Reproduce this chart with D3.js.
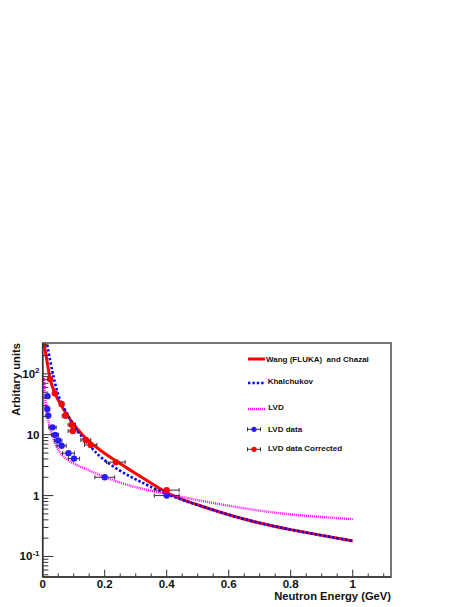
<!DOCTYPE html>
<html><head><meta charset="utf-8">
<script src="https://cdn.jsdelivr.net/npm/d3@7"></script>
<style>
html,body{margin:0;padding:0;background:#fff;}
svg{display:block;font-family:"Liberation Sans",Arial,Helvetica,sans-serif;font-weight:bold;}
</style></head>
<body><svg id="c" width="469" height="607"></svg>
<script>
// ---- data ----
const wangE   = [0.0015,0.005,0.01,0.015,0.023,0.03,0.04,0.06,0.08,0.1,0.125,0.15,0.2,0.24,0.3,0.35,0.4,0.45,0.5,0.6,0.7,0.8,0.9,1.0];
const wangV   = [340,300,215,150,83,64,46,30,20.5,14.6,10.3,7.6,4.9,3.6,2.3,1.6,1.1,0.86,0.7,0.48,0.35,0.275,0.222,0.18];
const khalE   = [0.012,0.02,0.032,0.036,0.045,0.058,0.077,0.1,0.12,0.15,0.185,0.25,0.3,0.335,0.4,0.45,0.5,0.6,0.7,0.8,0.9,1.0];
const khalV   = [350,210,104,83,55,34,23,13.8,10,6.8,4.2,2.5,1.85,1.5,1.05,0.85,0.7,0.48,0.35,0.275,0.222,0.18];
const lvdCurveE = [0.004,0.006,0.01,0.018,0.029,0.045,0.066,0.1,0.15,0.2,0.24,0.3,0.4,0.5,0.6,0.7,0.8,0.9,1.0];
const lvdCurveV = [85,50,27,16.6,10,6.0,4.3,3.3,2.6,2.0,1.7,1.35,1.07,0.84,0.68,0.56,0.49,0.445,0.41];
const lvdDataE  = [0.0155,0.0148,0.018,0.0316,0.040,0.050,0.061,0.083,0.101,0.2,0.4];
const lvdDataV  = [43,26.5,20.6,13.2,9.95,8.05,6.6,4.97,4.05,2.0,1.0];
const lvdDataEx = [0.003,0.003,0.004,0.012,0.011,0.012,0.015,0.019,0.018,0.032,0.04];
const corrE  = [0.002,0.0235,0.039,0.061,0.073,0.094,0.097,0.139,0.155,0.236,0.4];
const corrV  = [310,82,48,32,20.5,14.6,11.5,8.2,6.8,3.55,1.23];
const corrEx = [0,0.004,0.006,0.007,0.01,0.012,0.015,0.016,0.02,0.03,0.04];
const xTicks = [0,0.2,0.4,0.6,0.8,1];
const xTickLabels = ["0","0.2","0.4","0.6","0.8","1"];
const yDecades = [0.1,1,10,100];
const yDecadeLabels = [["10","-1"],["1",""],["10",""],["10","2"]];
const legendLabels = ["Wang (FLUKA)  and Chazal","Khalchukov","LVD","LVD data","LVD data Corrected"];
const xTitle = "Neutron Energy (GeV)";
const yTitle = "Arbitary units";

// ---- layout ----
const L=42.7, R=391, T=343, B=577;
const svg = d3.select("#c");
const x = d3.scaleLinear().domain([0,1.1235]).range([L,R]);
const y = d3.scaleLog().domain([0.046,321]).range([B,T]);

svg.append("defs").append("clipPath").attr("id","pc")
  .append("rect").attr("x",L).attr("y",T).attr("width",R-L).attr("height",B-T);

const plot = svg.append("g").attr("clip-path","url(#pc)");
const line = d3.line().x(d=>x(d[0])).y(d=>y(d[1])).curve(d3.curveBasis);
const zip = (a,b)=>a.map((v,i)=>[v,b[i]]);

plot.append("path").attr("d",line(zip(wangE,wangV)))
  .attr("fill","none").attr("stroke","#ff0000").attr("stroke-width",3);
plot.append("path").attr("d",line(zip(khalE,khalV)))
  .attr("fill","none").attr("stroke","#0000ff").attr("stroke-width",2.6).attr("stroke-dasharray","2.4,2");
plot.append("path").attr("d",line(zip(lvdCurveE,lvdCurveV)))
  .attr("fill","none").attr("stroke","#ff00ff").attr("stroke-width",2.4).attr("stroke-dasharray","1,1");

function drawPoints(E,V,Ex,color){
  const g = plot.append("g");
  E.forEach((e,i)=>{
    const cx=x(e), cy=y(V[i]);
    if(Ex[i]>0){
      const x0=x(e-Ex[i]), x1=x(e+Ex[i]);
      g.append("line").attr("x1",x0).attr("x2",x1).attr("y1",cy).attr("y2",cy).attr("stroke","#333").attr("stroke-width",1);
      [x0,x1].forEach(xx=>g.append("line").attr("x1",xx).attr("x2",xx).attr("y1",cy-2).attr("y2",cy+2).attr("stroke","#333").attr("stroke-width",1));
    }
    g.append("circle").attr("cx",cx).attr("cy",cy).attr("r",3.2).attr("fill",color);
  });
}
drawPoints(lvdDataE,lvdDataV,lvdDataEx,"#2a1aff");
drawPoints(corrE,corrV,corrEx,"#ff0000");

// ---- frame ----
svg.append("rect").attr("x",L).attr("y",T).attr("width",R-L).attr("height",B-T)
  .attr("fill","none").attr("stroke","#555").attr("stroke-width",1.6);
svg.append("line").attr("x1",L).attr("x2",L).attr("y1",T).attr("y2",B).attr("stroke","#333").attr("stroke-width",1.4);
svg.append("line").attr("x1",L).attr("x2",R).attr("y1",B).attr("y2",B).attr("stroke","#333").attr("stroke-width",1.4);

// x ticks
const xMinor = d3.range(0,1.12,0.05);
xMinor.forEach(v=>{
  const major = Math.abs(v/0.2 - Math.round(v/0.2))<1e-6;
  svg.append("line").attr("x1",x(v)).attr("x2",x(v)).attr("y1",B).attr("y2",B-(major?7.3:3.5))
    .attr("stroke","#333").attr("stroke-width",1);
});
xTicks.forEach((v,i)=>{
  svg.append("text").attr("x",x(v)).attr("y",588).attr("text-anchor","middle")
    .attr("font-size",11.5).attr("fill","#111").text(xTickLabels[i]);
});
// y ticks
const yMinor=[];
[0.01,0.1,1,10,100].forEach(d=>{for(let k=1;k<=9;k++){const v=d*k; if(v>=0.046&&v<=321) yMinor.push(v);} });
yMinor.forEach(v=>{
  const major = yDecades.some(dv=>Math.abs(dv-v)/dv<1e-6);
  svg.append("line").attr("x1",L).attr("x2",L+(major?10.7:5.7)).attr("y1",y(v)).attr("y2",y(v))
    .attr("stroke","#333").attr("stroke-width",1);
});
yDecades.forEach((v,i)=>{
  const t = svg.append("text").attr("x",39.5).attr("y",y(v)+4).attr("text-anchor","end")
    .attr("font-size",11.5).attr("fill","#111");
  t.append("tspan").text(yDecadeLabels[i][0]);
  if(yDecadeLabels[i][1]) t.append("tspan").attr("font-size",8).attr("dy",-4.5).text(yDecadeLabels[i][1]);
});

// titles
svg.append("text").attr("x",391).attr("y",600).attr("text-anchor","end")
  .attr("font-size",11.2).attr("fill","#111").text(xTitle);
svg.append("text").attr("transform","translate(19.5,343) rotate(-90)").attr("text-anchor","end")
  .attr("font-size",11.2).attr("fill","#111").text(yTitle);

// ---- legend ----
const lg = svg.append("g");
const ly = [359,383,409,429.3,449.3];
const ty = [361.8,384,410,432,451];
const tx = [266,267.7,268.3,268,268];
lg.append("line").attr("x1",248).attr("x2",265).attr("y1",ly[0]).attr("y2",ly[0]).attr("stroke","#ff0000").attr("stroke-width",3);
lg.append("line").attr("x1",248).attr("x2",265).attr("y1",ly[1]).attr("y2",ly[1]).attr("stroke","#0000ff").attr("stroke-width",2.6).attr("stroke-dasharray","2.4,2");
lg.append("line").attr("x1",248).attr("x2",265).attr("y1",ly[2]).attr("y2",ly[2]).attr("stroke","#ff00ff").attr("stroke-width",2.4).attr("stroke-dasharray","1,1");
[[3,"#2a1aff"],[4,"#ff0000"]].forEach(([k,c])=>{
  lg.append("line").attr("x1",247.5).attr("x2",260.5).attr("y1",ly[k]).attr("y2",ly[k]).attr("stroke","#333").attr("stroke-width",1);
  [247.5,260.5].forEach(xx=>lg.append("line").attr("x1",xx).attr("x2",xx).attr("y1",ly[k]-2).attr("y2",ly[k]+2).attr("stroke","#333").attr("stroke-width",1));
  lg.append("circle").attr("cx",254).attr("cy",ly[k]).attr("r",2.6).attr("fill",c);
});
legendLabels.forEach((s,i)=>{
  lg.append("text").attr("x",tx[i]).attr("y",ty[i]).attr("font-size",8).attr("fill","#111")
    .attr("xml:space","preserve").style("white-space","pre").text(s);
});
</script></body></html>
